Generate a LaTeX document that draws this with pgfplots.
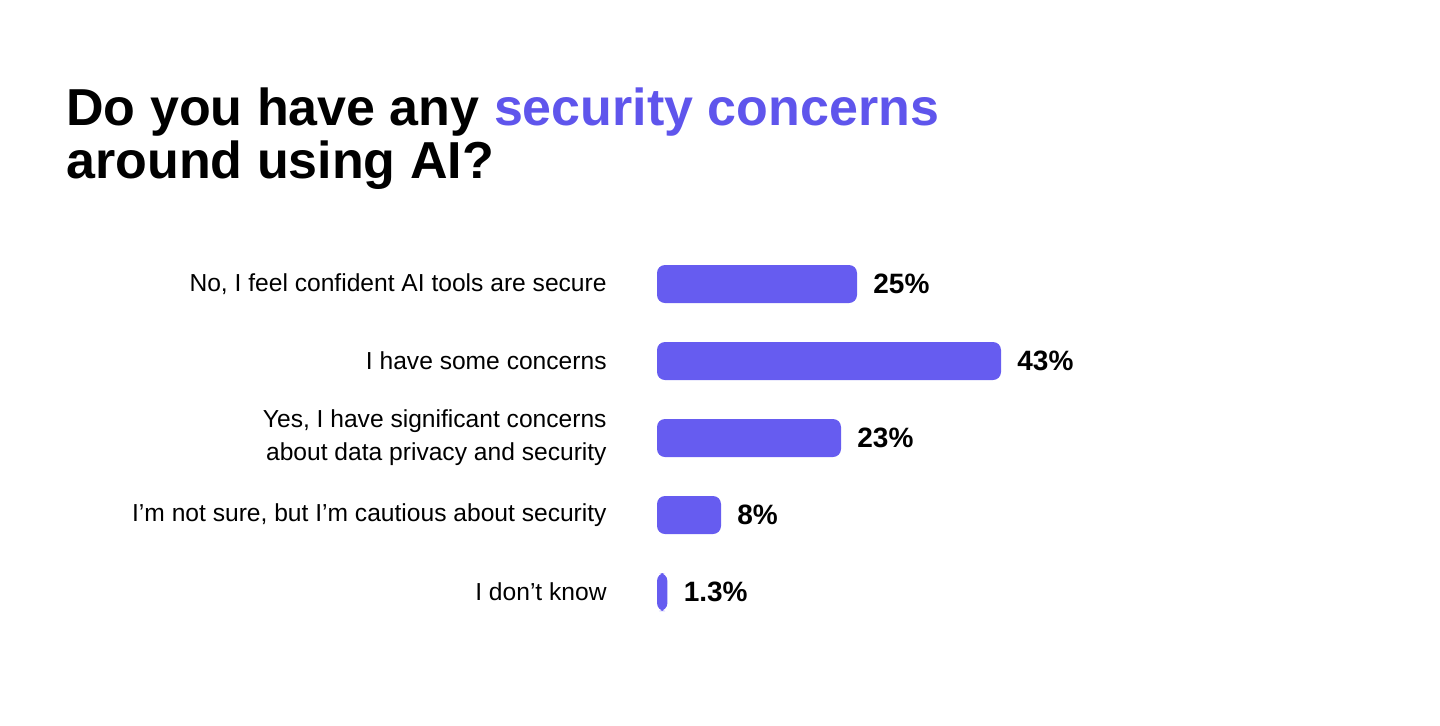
\documentclass[border=0pt]{standalone}
\usepackage{pgfplots}
\pgfplotsset{compat=1.18}
\usepackage{fontspec}
\setmainfont{Liberation Sans}
\definecolor{barpurple}{HTML}{665CF0}
\definecolor{titlepurple}{HTML}{5F55EC}
\begin{document}
\begin{tikzpicture}
\useasboundingbox (0,0) rectangle (720pt,362.5pt);
\node[anchor=base west, inner sep=0pt, font=\fontsize{26}{30}\selectfont\bfseries] at (33pt,300pt) {Do you have any \textcolor{titlepurple}{security concerns}};
\node[anchor=base west, inner sep=0pt, font=\fontsize{26}{30}\selectfont\bfseries] at (33pt,273.5pt) {around using AI?};
\begin{axis}[
  at={(328.5pt,47.25pt)}, anchor=south west,
  scale only axis, width=200pt, height=192.5pt,
  xmin=0, xmax=50, ymin=-0.5, ymax=4.5,
  axis line style={draw=none}, major tick length=0pt,
  xtick=\empty, ytick={0,1,2,3,4},
  yticklabels={{I don’t know}, {I’m not sure, but I’m cautious about security}, {Yes, I have significant concerns\\about data privacy and security}, {I have some concerns}, {No, I feel confident AI tools are secure}},
  yticklabel style={align=right, inner sep=0pt, xshift=-25pt, font=\fontsize{12.3}{16.5}\selectfont},
  clip=false,
  xbar, bar width=19pt,
  point meta=explicit symbolic,
  nodes near coords,
  every node near coord/.append style={anchor=west, inner sep=0pt, xshift=8pt, font=\fontsize{14}{16}\selectfont\bfseries, text=black},
]
\addplot[fill=barpurple, draw=none, rounded corners=4pt] coordinates {
  (25,4) [25\%]
  (43,3) [43\%]
  (23,2) [23\%]
  (8,1) [8\%]
  (1.3,0) [1.3\%]
};
\end{axis}
\end{tikzpicture}
\end{document}
